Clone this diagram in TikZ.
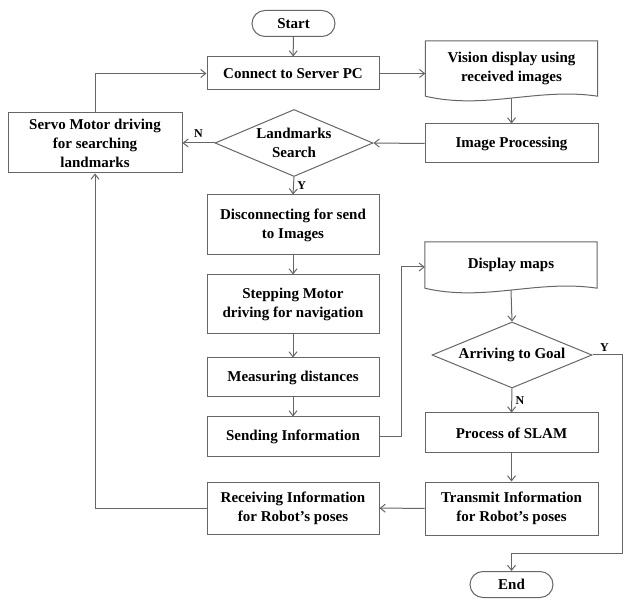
\documentclass[tikz,border=0pt]{standalone}
\usepackage{fontspec}
\setmainfont{Liberation Serif}
\usepackage{tikz}
\usetikzlibrary{arrows.meta, shapes.geometric, shapes.misc, calc}

\begin{document}
\begin{tikzpicture}[x=1pt,y=-1pt,>={Straight Barb[length=5pt,width=8pt]},
  every node/.style={font=\bfseries\fontsize{15}{19}\selectfont,text=black},
  box/.style={draw=black!60,line width=1pt,align=center,inner sep=2pt},
  termbox/.style={draw=black!60,line width=1pt,rounded rectangle,inner sep=2pt,
    minimum width=87pt,minimum height=26pt},
  docbox/.style={align=center,inner sep=2pt,minimum width=172pt},
  decbox/.style={draw=black!60,line width=1pt,diamond,align=center,inner sep=0pt},
  docline/.style={draw=black!60,line width=1pt},
  flow/.style={->,draw=black!60,line width=1pt},
  yn/.style={font=\bfseries\fontsize{12}{14}\selectfont}]
  \useasboundingbox (0,0) rectangle (624,601);

  % middle column
  \node[termbox] (start) at (293.5,23.5) {Start};
  \node[box,minimum width=172pt,minimum height=33pt] (conn) at (293,73.5)
    {Connect to Server PC};
  \node[decbox,aspect=2.36,minimum width=158pt,minimum height=67pt] (land)
    at (294,143) {Landmarks\\Search};
  \node[box,minimum width=172pt,minimum height=60pt] (disc) at (293,225)
    {Disconnecting for send\\to Images};
  \node[box,minimum width=172pt,minimum height=59pt] (stepm) at (293,304.5)
    {Stepping Motor\\driving for navigation};
  \node[box,minimum width=172pt,minimum height=39pt] (meas) at (293,377.5)
    {Measuring distances};
  \node[box,minimum width=172pt,minimum height=40pt] (send) at (293,437)
    {Sending Information};
  \node[box,minimum width=172pt,minimum height=52pt] (recv) at (293,508)
    {Receiving Information\\for Robot's poses};

  % left column
  \node[box,minimum width=174pt,minimum height=60pt] (servo) at (95,143)
    {Servo Motor driving\\for searching\\landmarks};

  % right column
  \node[docbox,minimum height=55pt] (vis) at (511.5,68.5)
    {Vision display using\\received images};
  \draw[docline] (vis.south west) -- (vis.north west) -- (vis.north east)
    -- (vis.south east)
    .. controls ($(vis.south east)+(-60,-9)$) and ($(vis.south west)+(60,14)$)
    .. (vis.south west);
  \node[box,minimum width=173pt,minimum height=39pt] (imgp) at (511.5,143.5)
    {Image Processing};
  \node[docbox,minimum height=46pt] (disp) at (511,265)
    {Display maps};
  \draw[docline] (disp.south west) -- (disp.north west) -- (disp.north east)
    -- (disp.south east)
    .. controls ($(disp.south east)+(-60,-9)$) and ($(disp.south west)+(60,14)$)
    .. (disp.south west);
  \node[decbox,aspect=2.42,minimum width=160pt,minimum height=66pt] (goal)
    at (512,355) {Arriving to Goal};
  \node[box,minimum width=173pt,minimum height=40pt] (slam) at (511.5,433)
    {Process of SLAM};
  \node[box,minimum width=173pt,minimum height=53pt] (trans) at (511.5,508.5)
    {Transmit Information\\for Robot's poses};
  \node[termbox] (fin) at (511.5,584.5) {End};

  \coordinate (rgt) at (622.5,553);

  % connectors
  \draw[flow] (start) -- (conn);
  \draw[flow] (conn.east) -- (conn.east -| vis.west);
  \draw[flow] (vis.south) ++(0,2) -- (imgp.north);
  \draw[flow] (imgp.west) -- (land.east);
  \draw[flow] (land.west) -- node[yn,above=2pt]{N} (servo.east);
  \draw[flow] (servo.north) |- (conn.west);
  \draw[flow] (land.south) -- node[yn,right]{Y} (disc.north);
  \draw[flow] (disc) -- (stepm);
  \draw[flow] (stepm) -- (meas);
  \draw[flow] (meas) -- (send);
  \draw[flow] (send.east) -| ($(disp.west)+(-23,2)$) -- ($(disp.west)+(0,2)$);
  \draw[flow] (disp.south) ++(0,2) -- (goal.north);
  \draw[flow] (goal.south) -- node[yn,right]{N} (slam.north);
  \draw[flow] (goal.east) -| node[yn,above,pos=0.2]{Y} (rgt) -| (fin.north);
  \draw[flow] (slam) -- (trans);
  \draw[flow] (trans) -- (recv);
  \draw[flow] (recv.west) -| (servo.south);
\end{tikzpicture}
\end{document}
